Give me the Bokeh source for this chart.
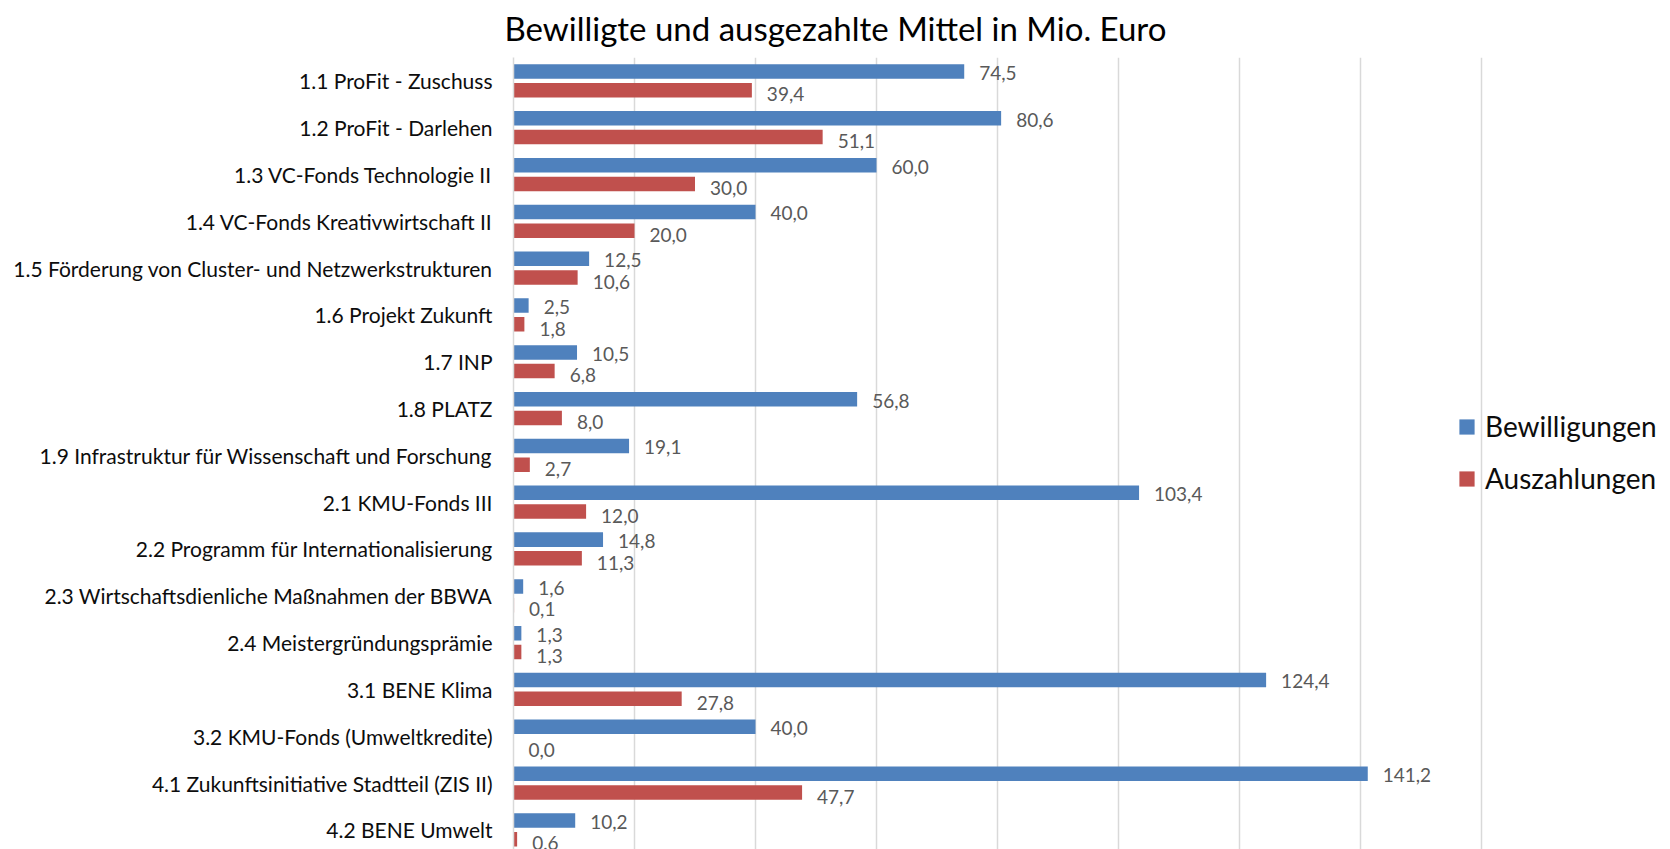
from bokeh.plotting import figure
from bokeh.models import Range1d, FixedTicker, ColumnDataSource, LabelSet, Legend, LegendItem
from bokeh.core.properties import value
from bokeh.transform import dodge
from bokeh.embed import file_html
from bokeh.resources import INLINE

categories = [
    "1.1 ProFit - Zuschuss",
    "1.2 ProFit - Darlehen",
    "1.3 VC-Fonds Technologie II",
    "1.4 VC-Fonds Kreativwirtschaft II",
    "1.5 Förderung von Cluster- und Netzwerkstrukturen",
    "1.6 Projekt Zukunft",
    "1.7 INP",
    "1.8 PLATZ",
    "1.9 Infrastruktur für Wissenschaft und Forschung",
    "2.1 KMU-Fonds III",
    "2.2 Programm für Internationalisierung",
    "2.3 Wirtschaftsdienliche Maßnahmen der BBWA",
    "2.4 Meistergründungsprämie",
    "3.1 BENE Klima",
    "3.2 KMU-Fonds (Umweltkredite)",
    "4.1 Zukunftsinitiative Stadtteil (ZIS II)",
    "4.2 BENE Umwelt",
]
bewilligungen = [74.5, 80.6, 60.0, 40.0, 12.5, 2.5, 10.5, 56.8, 19.1, 103.4, 14.8, 1.6, 1.3, 124.4, 40.0, 141.2, 10.2]
auszahlungen = [39.4, 51.1, 30.0, 20.0, 10.6, 1.8, 6.8, 8.0, 2.7, 12.0, 11.3, 0.1, 1.3, 27.8, 0.0, 47.7, 0.6]
grid_ticks = [0, 20, 40, 60, 80, 100, 120, 140, 160]

BLUE = "#4F81BD"
RED = "#C0504D"
FONT = "Lato"

def fmt(v):
    return f"{v:.1f}".replace(".", ",")

pos = list(range(len(categories)))
src = ColumnDataSource(dict(
    pos=pos,
    bew=bewilligungen,
    aus=auszahlungen,
    bew_t=[fmt(v) for v in bewilligungen],
    aus_t=[fmt(v) for v in auszahlungen],
))

p = figure(
    width=1670, height=849,
    x_range=Range1d(0, 191.24),
    y_range=Range1d(16.42, -0.5),
    output_backend="svg", toolbar_location=None,
    min_border_left=513, min_border_right=0, min_border_top=57, min_border_bottom=0,
)
p.title.text = "Bewilligte und ausgezahlte Mittel in Mio. Euro"
p.title.text_font = FONT
p.title.text_font_size = "33px"
p.title.text_font_style = "normal"
p.title.text_color = "#000000"
p.title.align = "left"
p.title.offset = -9
p.title.vertical_align = "top"
p.title.standoff = 15

r1 = p.hbar(y=dodge("pos", -0.2, range=p.y_range), right="bew", left=0, height=0.31,
            fill_color=BLUE, line_color=None, source=src)
r2 = p.hbar(y=dodge("pos", 0.2, range=p.y_range), right="aus", left=0, height=0.31,
            fill_color=RED, line_color=None, source=src)

lbl1 = LabelSet(x="bew", y=dodge("pos", -0.17, range=p.y_range), text="bew_t", source=src,
                x_offset=15, text_baseline="middle", text_align="left",
                text_font=value(FONT), text_font_size="19px", text_color="#595959")
lbl2 = LabelSet(x="aus", y=dodge("pos", 0.29, range=p.y_range), text="aus_t", source=src,
                x_offset=15, text_baseline="middle", text_align="left",
                text_font=value(FONT), text_font_size="19px", text_color="#595959")
p.add_layout(lbl1)
p.add_layout(lbl2)

p.xaxis.visible = False
p.xgrid.ticker = FixedTicker(ticks=grid_ticks)
p.xgrid.grid_line_color = "#d9d9d9"
p.xgrid.grid_line_width = 1.5
p.ygrid.grid_line_color = None

ya = p.yaxis[0]
ya.ticker = FixedTicker(ticks=pos)
ya.major_label_overrides = {i: c for i, c in zip(pos, categories)}
ya.major_tick_line_color = None
ya.minor_tick_line_color = None
ya.major_tick_out = 0
ya.major_tick_in = 0
ya.major_label_standoff = 21
ya.axis_line_color = "#d9d9d9"
ya.axis_line_width = 1.5
ya.major_label_text_font = FONT
ya.major_label_text_font_size = "21px"
ya.major_label_text_color = "#0d0d0d"

p.outline_line_color = None

legend = Legend(
    items=[LegendItem(label="Bewilligungen", renderers=[r1]),
           LegendItem(label="Auszahlungen", renderers=[r2])],
    location=(944, 352),
    label_text_font=FONT, label_text_font_size="28px", label_text_color="#0d0d0d",
    label_text_baseline="alphabetic",
    glyph_width=19, glyph_height=19, label_standoff=9,
    label_height=38, spacing=14, padding=0, margin=0,
    border_line_color=None, background_fill_alpha=0,
)
p.add_layout(legend)

open("out.html", "w").write(file_html(p, INLINE))
